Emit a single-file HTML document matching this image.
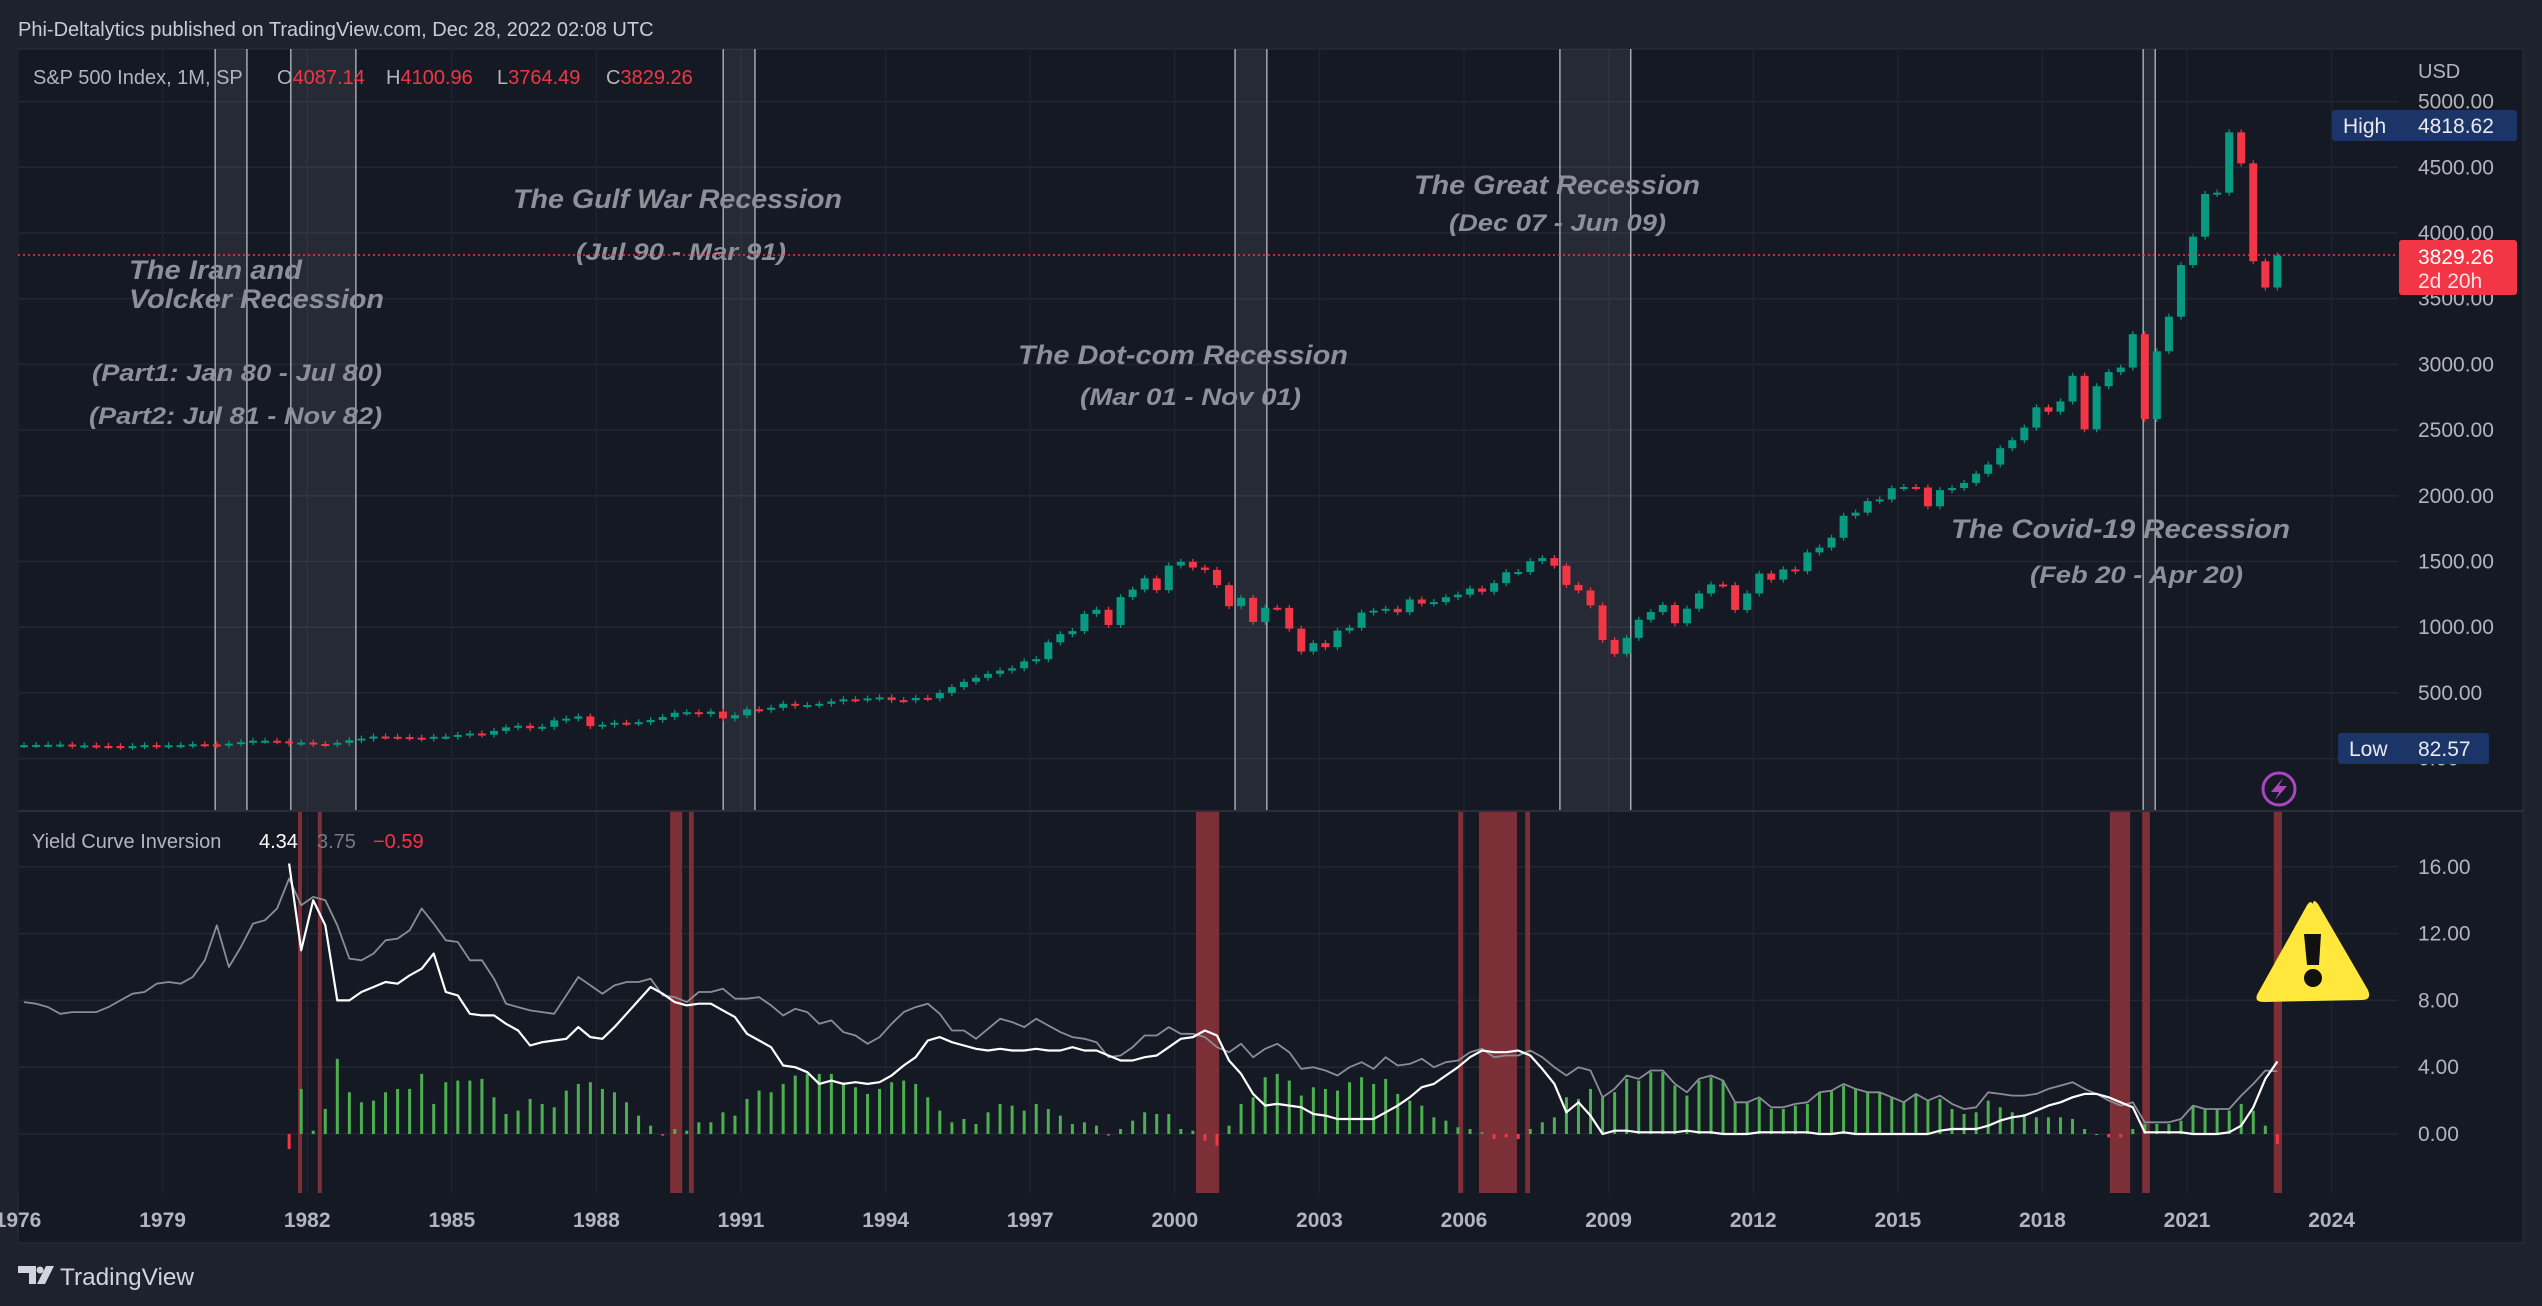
<!DOCTYPE html>
<html><head><meta charset="utf-8"><style>
html,body{margin:0;padding:0;background:#1e222d;}
svg{display:block;font-family:"Liberation Sans",sans-serif;}
text{white-space:pre;}
</style></head><body>
<svg id="chart" width="2542" height="1306" viewBox="0 0 2542 1306" xmlns="http://www.w3.org/2000/svg" xml:space="preserve">
<rect x="0" y="0" width="2542" height="1306" fill="#1e222d"/>
<text x="18" y="36" font-size="20" fill="#c9ccd4">Phi-Deltalytics published on TradingView.com, Dec 28, 2022 02:08 UTC</text>
<rect x="18" y="49" width="2505" height="1194" fill="#151924" stroke="#2a2e39"/>
<g id="grid"></g>
<g id="bands"></g>
<g id="inv"></g>
<g id="candles"></g>
<g id="lower"></g>
<line x1="18" x2="2523" y1="811" y2="811" stroke="#2a2e39" stroke-width="2"/>
<g font-weight="bold" font-style="italic" fill="#8e9099">
<text x="129" y="279" font-size="27" textLength="173" lengthAdjust="spacingAndGlyphs">The Iran and</text>
<text x="129" y="308" font-size="27" textLength="255" lengthAdjust="spacingAndGlyphs">Volcker Recession</text>
<text x="92" y="381" font-size="24" textLength="290" lengthAdjust="spacingAndGlyphs">(Part1: Jan 80 - Jul 80)</text>
<text x="89" y="424" font-size="24" textLength="293" lengthAdjust="spacingAndGlyphs">(Part2: Jul 81 - Nov 82)</text>
<text x="513" y="208" font-size="27" textLength="329" lengthAdjust="spacingAndGlyphs">The Gulf War Recession</text>
<text x="576" y="260" font-size="24" textLength="210" lengthAdjust="spacingAndGlyphs">(Jul 90 - Mar 91)</text>
<text x="1018" y="364" font-size="27" textLength="330" lengthAdjust="spacingAndGlyphs">The Dot-com Recession</text>
<text x="1080" y="405" font-size="24" textLength="221" lengthAdjust="spacingAndGlyphs">(Mar 01 - Nov 01)</text>
<text x="1414" y="194" font-size="27" textLength="286" lengthAdjust="spacingAndGlyphs">The Great Recession</text>
<text x="1449" y="231" font-size="24" textLength="217" lengthAdjust="spacingAndGlyphs">(Dec 07 - Jun 09)</text>
<text x="1951" y="538" font-size="27" textLength="339" lengthAdjust="spacingAndGlyphs">The Covid-19 Recession</text>
<text x="2030" y="583" font-size="24" textLength="213" lengthAdjust="spacingAndGlyphs">(Feb 20 - Apr 20)</text>
</g>
<g font-size="20" fill="#b2b5be">
<text x="33" y="84">S&amp;P 500 Index, 1M, SP</text>
<text x="277" y="84">O<tspan fill="#f23645">4087.14</tspan></text>
<text x="386" y="84">H<tspan fill="#f23645">4100.96</tspan></text>
<text x="497" y="84">L<tspan fill="#f23645">3764.49</tspan></text>
<text x="606" y="84">C<tspan fill="#f23645">3829.26</tspan></text>
</g>
<text x="32" y="848" font-size="20" fill="#b2b5be">Yield Curve Inversion</text>
<text x="259" y="848" font-size="20" fill="#ffffff">4.34</text>
<text x="317" y="848" font-size="20" fill="#787b86">3.75</text>
<text x="373" y="848" font-size="20" fill="#f23645">−0.59</text>
<g id="axes"></g>
<line x1="18" x2="2398" y1="255" y2="255" stroke="#f23645" stroke-width="1.5" stroke-dasharray="2,3"/>
<text x="2418" y="78" font-size="20" fill="#b2b5be">USD</text>
<rect x="2332" y="110" width="185" height="31" rx="3" fill="#1c3568"/>
<text x="2343" y="133" font-size="21" fill="#e8eaf0">High</text>
<text x="2418" y="133" font-size="21" fill="#e8eaf0">4818.62</text>
<rect x="2338" y="733" width="151" height="31" rx="3" fill="#1c3568"/>
<text x="2349" y="756" font-size="21" fill="#e8eaf0">Low</text>
<text x="2418" y="756" font-size="21" fill="#e8eaf0">82.57</text>
<rect x="2399" y="240" width="118" height="55" rx="3" fill="#f23645"/>
<text x="2418" y="264" font-size="21" fill="#ffffff">3829.26</text>
<text x="2418" y="288" font-size="21" fill="#ffe0e3">2d 20h</text>
<g>
<circle cx="2279" cy="789" r="16" fill="none" stroke="#ab47bc" stroke-width="3"/>
<path d="M2283 778 L2271 792 L2279 792 L2275 800 L2287 786 L2279 786 Z" fill="#ab47bc"/>
</g>
<g>
<path d="M2313 904 Q2313 898 2318 904 L2368 990 Q2372 1000 2362 1000 L2264 1002 Q2253 1002 2258 993 L2306 907 Q2310 899 2313 904 Z" fill="#ffe83b"/>
<path d="M2304 934 L2321 934 L2319 965 L2307 965 Z" fill="#111"/>
<circle cx="2313" cy="978" r="9" fill="#111"/>
</g>
<g>
<path d="M18 1266 L36 1266 L36 1284 L29 1284 L29 1273 L18 1273 Z" fill="#d1d4dc"/>
<circle cx="40" cy="1270" r="3.5" fill="#d1d4dc"/>
<path d="M46 1266 L54 1266 L45 1284 L37 1284 Z" fill="#d1d4dc"/>
<text x="60" y="1285" font-size="24" fill="#d1d4dc" textLength="134" lengthAdjust="spacingAndGlyphs">TradingView</text>
</g>
<script>
// ---- data (quarterly, starting 1976 Q1) ----
const startYear = 1976;
const spClose = [102,104,105,107, 98,100,96,95, 89,95,102,96, 101,102,109,108, 102,114,125,136, 136,131,116,122, 111,109,120,140, 152,168,166,164, 159,153,166,167, 180,191,182,211, 238,250,231,242, 291,304,321,247, 258,273,271,277, 294,317,349,353, 339,358,306,330, 375,371,387,417, 403,408,417,435, 451,450,458,466, 445,444,462,459, 500,544,584,615, 645,670,687,740, 757,885,947,970, 1101,1133,1017,1229, 1286,1372,1282,1469, 1498,1454,1436,1320, 1160,1224,1040,1148, 1147,989,815,879, 848,974,995,1111, 1126,1140,1114,1211, 1180,1191,1228,1248, 1294,1270,1335,1418, 1420,1503,1526,1468, 1322,1280,1166,903, 797,919,1057,1115, 1169,1030,1141,1257, 1325,1320,1131,1257, 1408,1362,1440,1426, 1569,1606,1681,1848, 1872,1960,1972,2058, 2067,2063,1920,2043, 2059,2098,2168,2238, 2362,2423,2519,2673, 2640,2718,2913,2506, 2834,2941,2976,3230, 2584,3100,3363,3756, 3972,4297,4307,4766, 4530,3785,3585,3829];
const longYield = [7.9,7.8,7.6,7.2, 7.3,7.3,7.3,7.6, 8.0,8.4,8.5,9.0, 9.1,9.0,9.4,10.4, 12.5,10.0,11.2,12.6, 12.8,13.5,15.3,13.7, 14.2,14.0,12.5,10.5, 10.4,10.8,11.6,11.7, 12.2,13.5,12.6,11.6, 11.5,10.4,10.4,9.3, 7.8,7.6,7.4,7.3, 7.2,8.3,9.4,8.9, 8.4,8.9,9.1,9.1, 9.3,8.3,8.2,7.9, 8.5,8.5,8.7,8.1, 8.1,8.2,7.7,7.1, 7.5,7.3,6.6,6.8, 6.1,5.9,5.4,5.8, 6.6,7.3,7.6,7.8, 7.2,6.2,6.2,5.7, 6.3,6.9,6.7,6.4, 6.9,6.5,6.1,5.8, 5.7,5.5,4.6,4.7, 5.2,5.9,5.9,6.4, 6.0,6.0,5.8,5.2, 4.9,5.4,4.6,5.1, 5.4,4.9,3.9,4.0, 3.8,3.5,4.0,4.3, 3.9,4.6,4.1,4.2, 4.5,4.0,4.3,4.4, 4.9,5.1,4.6,4.7, 4.7,5.0,4.6,4.0, 3.5,4.0,3.8,2.2, 2.7,3.5,3.3,3.8, 3.8,3.0,2.5,3.3, 3.5,3.2,1.9,1.9, 2.2,1.6,1.6,1.8, 1.9,2.5,2.6,3.0, 2.7,2.5,2.5,2.2, 1.9,2.4,2.0,2.3, 1.8,1.5,1.6,2.5, 2.4,2.3,2.3,2.4, 2.7,2.9,3.1,2.7, 2.4,2.0,1.7,1.9, 0.7,0.7,0.7,0.9, 1.7,1.5,1.5,1.5, 2.3,3.0,3.8,3.75];
const shortYield = [null,null,null,null, null,null,null,null, null,null,null,null, null,null,null,null, null,null,null,null, null,null,16.2,11.0, 14.0,12.5,8.0,8.0, 8.5,8.8,9.1,9.0, 9.5,9.9,10.8,8.5, 8.3,7.2,7.1,7.1, 6.6,6.2,5.3,5.5, 5.6,5.7,6.4,5.8, 5.7,6.4,7.2,8.0, 8.8,8.4,7.9,7.7, 7.8,7.8,7.4,7.0, 6.0,5.6,5.2,4.1, 4.0,3.7,3.0,3.2, 3.0,3.1,3.0,3.1, 3.5,4.1,4.6,5.6, 5.8,5.5,5.3,5.1, 5.0,5.1,5.0,5.0, 5.1,5.0,5.0,5.2, 5.0,5.0,4.7,4.4, 4.4,4.6,4.7,5.2, 5.7,5.8,6.2,5.9, 4.4,3.6,2.4,1.7, 1.8,1.7,1.6,1.2, 1.1,0.9,0.9,0.9, 0.9,1.3,1.7,2.2, 2.8,3.0,3.5,4.0, 4.6,5.0,4.9,4.9, 5.0,4.7,3.9,3.0, 1.3,1.9,1.1,0.0, 0.2,0.2,0.1,0.1, 0.1,0.1,0.2,0.1, 0.1,0.0,0.0,0.0, 0.1,0.1,0.1,0.1, 0.1,0.0,0.0,0.1, 0.0,0.0,0.0,0.0, 0.0,0.0,0.0,0.2, 0.3,0.3,0.3,0.5, 0.8,1.0,1.1,1.4, 1.7,1.9,2.2,2.4, 2.4,2.2,1.9,1.6, 0.1,0.1,0.1,0.1, 0.0,0.0,0.0,0.1, 0.5,1.6,3.3,4.34];
const recessionStarts = [1980.09, 1981.66, 1990.63, 2001.25, 2007.99, 2020.09];
const recessionEnds   = [1980.75, 1983.01, 1991.29, 2001.91, 2009.46, 2020.34];
const inversionStarts = [1981.81, 1982.22, 1989.53, 1989.92, 2000.44, 2005.88, 2006.31, 2007.27, 2019.40, 2020.07, 2022.80];
const inversionEnds   = [1981.87, 1982.29, 1989.78, 1990.02, 2000.92, 2005.98, 2007.10, 2007.37, 2019.82, 2020.23, 2022.97];
const priceTicks = [0,500,1000,1500,2000,2500,3000,3500,4000,4500,5000];
const yieldTicks = [0,4,8,12,16];
const yearTicks = [1976,1979,1982,1985,1988,1991,1994,1997,2000,2003,2006,2009,2012,2015,2018,2021,2024];

// ---- axis functions ----
const NS = 'http://www.w3.org/2000/svg';
const tx = t => 2187 + (t - 2021) * 48.2;
const py = v => 758.6 - 0.1314 * v;
const ly = v => 1134 - 16.7 * v;
const PL = 18, PR = 2398, MT = 49, MB = 811, LB = 1193;
function mk(tag, attrs, parent){ const e = document.createElementNS(NS, tag); for (const k in attrs) e.setAttribute(k, attrs[k]); parent.appendChild(e); return e; }

const grid = document.getElementById('grid');
for (const v of priceTicks){ const l = mk('line',{x1:PL,x2:PR,y1:py(v),y2:py(v),stroke:'#232734','stroke-width':1.5},grid);
  
   }
for (const v of yieldTicks){ const l = mk('line',{x1:PL,x2:PR,y1:ly(v),y2:ly(v),stroke:'#232734','stroke-width':1.5},grid);
  
   }
for (const y of yearTicks){ const l = mk('line',{x1:tx(y),x2:tx(y),y1:MT,y2:LB,stroke:'#1f2330','stroke-width':1.5},grid);
  
   }

const bands = document.getElementById('bands');
recessionStarts.forEach((s,i)=>{
  const x1 = tx(s), x2 = tx(recessionEnds[i]);
  const r = mk('rect',{x:x1,y:MT,width:x2-x1,height:MB-MT,fill:'rgba(255,255,255,0.075)'},bands);
  
  
  for (const x of [x1,x2]){ const l = mk('line',{x1:x,x2:x,y1:MT,y2:MB,stroke:'#b8bbc4','stroke-width':1.3},bands);
    
     }
});

const inv = document.getElementById('inv');
inversionStarts.forEach((s,i)=>{
  const x1 = tx(s), x2 = tx(inversionEnds[i]);
  const r = mk('rect',{x:x1,y:MB,width:Math.max(4,x2-x1),height:LB-MB,fill:'#7c2f36'},inv);
  
  
});

const cg = document.getElementById('candles');
spClose.forEach((c,i)=>{
  const o = i === 0 ? c : spClose[i-1];
  const t = startYear + i*0.25 + 0.125;
  const up = c >= o;
  const col = up ? '#089981' : '#f23645';
  const hi = Math.max(o,c), lo = Math.min(o,c);
  const y1 = py(hi), y2 = py(lo);
  const w = mk('line',{x1:tx(t),x2:tx(t),y1:py(hi)-3,y2:py(lo)+3,stroke:col,'stroke-width':1.2},cg);
  
  
  const b = mk('rect',{x:tx(t)-4,y:y1,width:8,height:Math.max(2,y2-y1),fill:col},cg);
  
  
});

const lg = document.getElementById('lower');
longYield.forEach((g,i)=>{
  const s = shortYield[i]; if (s === null) return;
  const d = g - s; const t = startYear + i*0.25 + 0.125;
  const y0 = ly(0), y1 = ly(d);
  const b = mk('rect',{x:tx(t)-1.5,y:Math.min(y0,y1),width:3,height:Math.max(1,Math.abs(y1-y0)),fill:d>=0?'#4caf50':'#f23645'},lg);
  
  
});
function linePath(arr){ let d=''; arr.forEach((v,i)=>{ if(v===null) return; const t=startYear+i*0.25+0.125; d += (d?'L':'M')+tx(t).toFixed(1)+' '+ly(v).toFixed(1)+' '; }); return d; }
const gl = mk('path',{d:linePath(longYield),fill:'none',stroke:'#8a8d96','stroke-width':1.8,'stroke-linejoin':'round'},lg);


const wl = mk('path',{d:linePath(shortYield),fill:'none',stroke:'#ffffff','stroke-width':2.2,'stroke-linejoin':'round'},lg);



const ax = document.getElementById('axes');
for (const v of priceTicks){ const t = mk('text',{x:2418,y:py(v)+7,'font-size':21,fill:'#b2b5be'},ax); t.textContent = v.toFixed(2);
  
   }
for (const v of yieldTicks){ const t = mk('text',{x:2418,y:ly(v)+7,'font-size':21,fill:'#b2b5be'},ax); t.textContent = v.toFixed(2);
  
   }
for (const y of yearTicks){ const t = mk('text',{x:tx(y),y:1227,'font-size':21,'font-weight':'bold',fill:'#b2b5be','text-anchor':'middle'},ax); t.textContent = y;
  
   }
</script>
</svg>
</body></html>
